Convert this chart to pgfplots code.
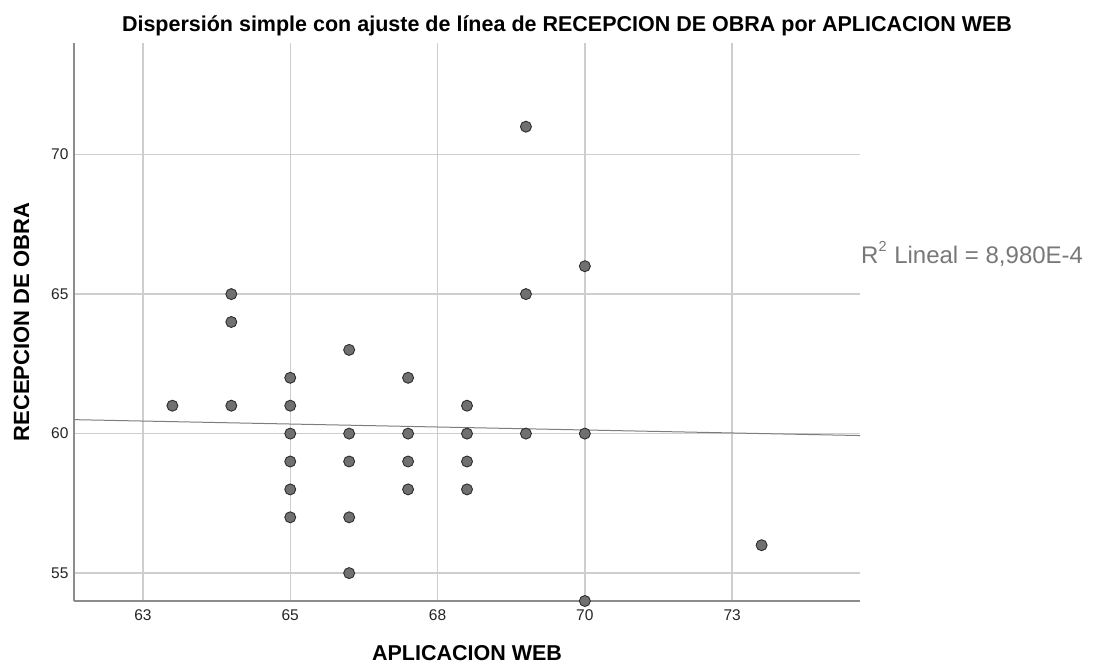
\documentclass[border=0pt]{standalone}
\usepackage{pgfplots}
\pgfplotsset{compat=1.18}
\usepackage{fontspec}
\setmainfont{Liberation Sans}
\definecolor{gridc}{RGB}{206,206,206}
\definecolor{axc}{RGB}{140,140,140}
\definecolor{mfill}{RGB}{112,112,112}
\definecolor{mdraw}{RGB}{45,45,45}
\definecolor{fitc}{RGB}{125,125,125}
\definecolor{txtgray}{RGB}{120,120,120}
\begin{document}
\begin{tikzpicture}
\useasboundingbox (0,0) rectangle (1101bp,668bp);
\begin{axis}[
  at={(74bp,67bp)}, anchor=south west,
  scale only axis, width=786bp, height=558bp,
  xmin=61.33, xmax=74.67, ymin=54, ymax=74,
  axis lines*=left,
  axis line style={axc, line width=1.4bp},
  grid=major,
  major grid style={gridc, line width=1.4bp},
  xtick={62.5,65,67.5,70,72.5}, xticklabels={63,65,68,70,73},
  ytick={55,60,65,70}, yticklabels={55,60,65,70},
  tick style={draw=none},
  ticklabel style={font=\fontsize{15.5bp}{18bp}\selectfont, text=black!85},
  xticklabel style={yshift=-5bp},
  yticklabel style={xshift=-2bp},
]
\addplot[fitc, line width=1bp, no marks] coordinates {(61.33,60.50) (74.67,59.93)};
\addplot[only marks, mark=*, mark size=5.5bp,
  mark options={fill=mfill, draw=mdraw, line width=0.9bp}] coordinates {
  (63,61)
  (64,65) (64,64) (64,61)
  (65,62) (65,61) (65,60) (65,59) (65,58) (65,57)
  (66,63) (66,60) (66,59) (66,57) (66,55)
  (67,62) (67,60) (67,59) (67,58)
  (68,61) (68,60) (68,59) (68,58)
  (69,71) (69,65) (69,60)
  (70,66) (70,60) (70,54)
  (73,56)
};
\end{axis}
\node[anchor=base, font=\bfseries\fontsize{21.5bp}{26bp}\selectfont] at (567bp,636bp)
  {Dispersión simple con ajuste de línea de RECEPCION DE OBRA por APLICACION WEB};
\node[anchor=base, font=\bfseries\fontsize{21.5bp}{26bp}\selectfont] at (467bp,8bp) {APLICACION WEB};
\node[anchor=base, rotate=90, font=\bfseries\fontsize{22bp}{26bp}\selectfont] at (29bp,346bp) {RECEPCION DE OBRA};
\node[anchor=base west, inner sep=0pt, text=txtgray, font=\fontsize{24bp}{28bp}\selectfont] at (861bp,404bp)
  {R\raisebox{0.5em}{\fontsize{14.5bp}{14.5bp}\selectfont 2}\hspace{1bp} Lineal = 8,980E-4};
\end{tikzpicture}
\end{document}
